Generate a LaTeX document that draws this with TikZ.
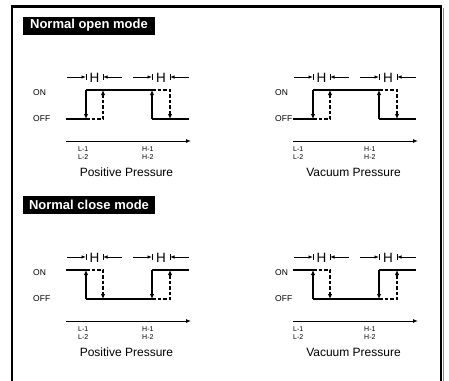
\documentclass[tikz,border=0pt]{standalone}
\usepackage{fontspec}
\setmainfont{Liberation Sans}
\usetikzlibrary{arrows.meta,positioning}
\definecolor{frameshade}{HTML}{8C8C8C}

\begin{document}
\begin{tikzpicture}[x=1pt,y=-1pt,
    level/.style={line width=1.2pt},
    hyst/.style={line width=1.1pt,dash pattern=on 3.5pt off 2pt},
    tipped/.style={-{Latex[length=5pt,width=4.4pt]}},
    marker/.style={line width=0.8pt,-{Latex[length=4.5pt,width=3.4pt]}},
    modebox/.style={fill=black,text=white,inner sep=0pt,minimum width=132pt,minimum height=18pt,font=\fontsize{13}{15}\selectfont\bfseries},
    state/.style={font=\fontsize{8.5}{10}\selectfont,inner sep=0pt,anchor=west},
    setp/.style={font=\fontsize{7}{8}\selectfont,inner sep=0pt,anchor=north west,align=left},
    hbig/.style={font=\fontsize{13.5}{15}\selectfont,inner sep=0pt},
    press/.style={font=\fontsize{12}{14}\selectfont,inner sep=0pt}]
  \useasboundingbox (0,0) rectangle (449,380);

  % Outer frame (bottom edge cut off)
  \draw[frameshade,line width=1.5pt] (443.6,8) -- (443.6,381);
  \draw[line width=2.2pt] (12,381) -- (12,6.5) -- (441,6.5) -- (441,381);

  % Mode titles
  \node[modebox] (open) at (89,25.5) {Normal open mode};
  \node[modebox] (close) at (89,204.5) {Normal close mode};

  % Four switching diagrams: columns = pressure kind, rows = mode
  \foreach \dx/\sx/\lx/\hx/\kind [count=\col] in {0/33/78/142/Positive, 227/48/66/137/Vacuum}{
    \foreach \dy/\lp/\lq [count=\row] in {0/119/90, 180/90/119}{
      \begin{scope}[xshift=\dx, yshift=-\dy]
        \node[state] (on\col\row) at (\sx,92.5) {ON};
        \node[state] (off\col\row) at (\sx,119) {OFF};

        % hysteresis markers
        \draw[marker] (67,77) -- (86,77);
        \draw[marker] (122,77) -- (103,77);
        \draw[line width=0.8pt] (86,74) -- (86,80) (103,74) -- (103,80);
        \node[hbig] (hl\col\row) at (94.5,77.5) {H};
        \draw[marker] (133,77) -- (152,77);
        \draw[marker] (189,77) -- (170,77);
        \draw[line width=0.8pt] (152,74) -- (152,80) (170,74) -- (170,80);
        \node[hbig] (hr\col\row) at (161,77.5) {H};

        % output (solid) and release (dashed)
        \draw[level] (66,\lp) -- (86,\lp) (86,\lq) -- (152,\lq) (152,\lp) -- (189,\lp);
        \draw[level,tipped] (86,\lq) -- (86,\lp);
        \draw[level,tipped] (152,\lp) -- (152,\lq);
        \draw[hyst,tipped] (86,\lp) -- (103,\lp) -- (103,\lq);
        \draw[hyst,tipped] (152,\lq) -- (170,\lq) -- (170,\lp);

        % pressure axis
        \draw[line width=1pt,-{Latex[length=5pt,width=4pt]}] (66,141) -- (191,141);
        \node[setp] (lo\col\row) at (\lx,146.5) {L-1\\L-2};
        \node[setp] (hi\col\row) at (\hx,146.5) {H-1\\H-2};
        \node[press] (kind\col\row) at (126.5,172) {\kind\ Pressure};
      \end{scope}
    }
  }
\end{tikzpicture}
\end{document}
